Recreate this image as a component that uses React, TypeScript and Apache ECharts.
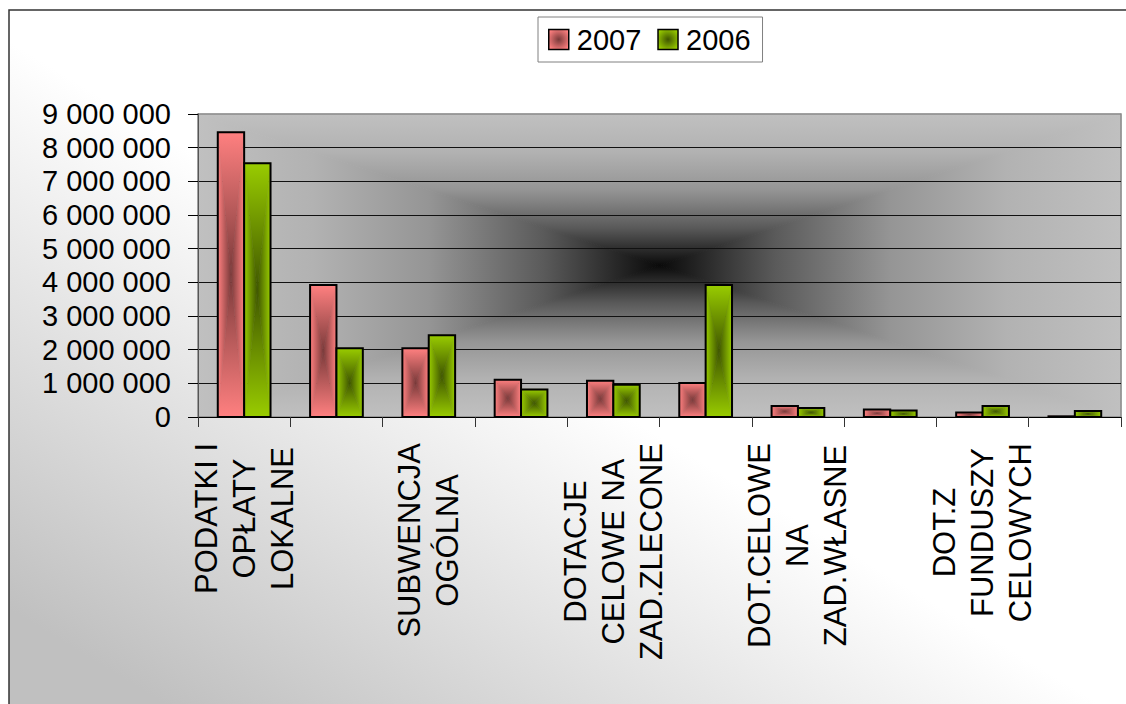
import React, { useEffect, useRef } from 'react';
import * as echarts from 'echarts';

// ---------- data ----------
const categories: string[] = [
  'PODATKI I\nOPŁATY\nLOKALNE',
  '',
  'SUBWENCJA\nOGÓLNA',
  '',
  'DOTACJE\nCELOWE NA\nZAD.ZLECONE',
  '',
  'DOT.CELOWE\nNA\nZAD.WŁASNE',
  '',
  'DOT.Z\nFUNDUSZY\nCELOWYCH',
  '',
];
const values2007: number[] = [8460000, 3920000, 2040000, 1110000, 1080000, 1010000, 330000, 220000, 130000, 20000];
const values2006: number[] = [7540000, 2040000, 2430000, 820000, 960000, 3920000, 270000, 190000, 330000, 180000];
const seriesNames: string[] = ['2007', '2006'];
const yMin = 0;
const yMax = 9000000;
const yStep = 1000000;

// ---------- style ----------
const FONT = "'Liberation Sans', Arial, Helvetica, sans-serif";
const GL = 198, GT = 114, GR = 1121, GB = 417;
const edgeColors = ['#ff8080', '#99cc00'];
const centerColors = ['#7a3a3a', '#3f5600'];

const fmt = (v: number) => String(v).replace(/\B(?=(\d{3})+(?!\d))/g, ' ');

const plotStops = [
  { offset: 0, color: '#c0c0c0' },
  { offset: 0.25, color: '#b2b2b2' },
  { offset: 0.5, color: '#959595' },
  { offset: 0.75, color: '#5a5a5a' },
  { offset: 0.9, color: '#2a2a2a' },
  { offset: 1, color: '#0a0a0a' },
];

function makeRender(si: number) {
  return (params: any, api: any) => {
    const idx = api.value(0);
    const val = api.value(1);
    const band = api.size([1, 0])[0];
    const barW = band / 3.5;
    const base = api.coord([idx, 0]);
    const top = api.coord([idx, val]);
    const x0 = base[0] - barW + si * barW;
    const x1 = x0 + barW;
    const y0 = top[1];
    const y1 = base[1];
    const cx = (x0 + x1) / 2;
    const cy = (y0 + y1) / 2;
    const stops = [
      { offset: 0, color: edgeColors[si] },
      { offset: 1, color: centerColors[si] },
    ];
    const lg = (a: number, b: number, c: number, d: number) =>
      new echarts.graphic.LinearGradient(a, b, c, d, stops);
    const tri = (pts: number[][], g: any) => ({
      type: 'polygon',
      shape: { points: pts },
      style: { fill: g, stroke: g, lineWidth: 0.6 },
    });
    return {
      type: 'group',
      children: [
        tri([[x0, y0], [x1, y0], [cx, cy]], lg(0, 0, 0, 1)),
        tri([[x0, y1], [x1, y1], [cx, cy]], lg(0, 1, 0, 0)),
        tri([[x0, y0], [x0, y1], [cx, cy]], lg(0, 0, 1, 0)),
        tri([[x1, y0], [x1, y1], [cx, cy]], lg(1, 0, 0, 0)),
        {
          type: 'rect',
          shape: { x: x0, y: y0, width: x1 - x0, height: y1 - y0 },
          style: { fill: 'none', stroke: '#000', lineWidth: 2 },
        },
      ],
    };
  };
}

export default function App() {
  const ref = useRef<HTMLDivElement>(null);
  useEffect(() => {
    if (!ref.current) return;
    const chart = echarts.init(ref.current, undefined, { renderer: 'svg' });
    const cx = (GL + GR) / 2;
    const cy = (GT + GB) / 2;
    const plg = (a: number, b: number, c: number, d: number) =>
      new echarts.graphic.LinearGradient(a, b, c, d, plotStops);
    const ptri = (pts: number[][], g: any) => ({
      type: 'polygon',
      z: -5,
      silent: true,
      shape: { points: pts },
      style: { fill: g, stroke: g, lineWidth: 1 },
    });
    const bgGrad = new echarts.graphic.LinearGradient(
      -268, 441, -16, 26,
      [
        { offset: 0, color: '#c0c0c0' },
        { offset: 1, color: '#ffffff' },
      ],
      true
    );
    chart.setOption({
      animation: false,
      backgroundColor: '#ffffff',
      graphic: [
        {
          type: 'rect', z: -10, silent: true,
          shape: { x: 9, y: 10, width: 1400, height: 1000 },
          style: { fill: bgGrad, stroke: '#333', lineWidth: 1.5 },
        },
        ptri([[GL, GT], [GR, GT], [cx, cy]], plg(0, 0, 0, 1)),
        ptri([[GL, GB], [GR, GB], [cx, cy]], plg(0, 1, 0, 0)),
        ptri([[GL, GT], [GL, GB], [cx, cy]], plg(0, 0, 1, 0)),
        ptri([[GR, GT], [GR, GB], [cx, cy]], plg(1, 0, 0, 0)),
      ],
      legend: {
        left: 538,
        top: 17,
        padding: [6, 12, 6, 10],
        itemWidth: 20,
        itemHeight: 20,
        itemGap: 16,
        icon: 'rect',
        backgroundColor: '#ffffff',
        borderColor: '#808080',
        borderWidth: 1,
        textStyle: { fontSize: 29, fontFamily: FONT, color: '#000', lineHeight: 33, padding: [0, 0, 0, 3] },
        data: seriesNames.map((n, i) => ({
          name: n,
          itemStyle: {
            color: new echarts.graphic.RadialGradient(0.5, 0.5, 0.6, [
              { offset: 0, color: centerColors[i] },
              { offset: 1, color: edgeColors[i] },
            ]),
            borderColor: '#000',
            borderWidth: 1.5,
          },
        })),
      },
      grid: {
        left: GL,
        top: GT,
        width: GR - GL,
        height: GB - GT,
        show: true,
        backgroundColor: 'transparent',
        borderColor: '#8a8a8a',
        borderWidth: 1.5,
      },
      xAxis: {
        type: 'category',
        data: categories,
        boundaryGap: true,
        axisLine: { show: true, lineStyle: { color: '#000', width: 1 } },
        axisTick: { show: true, interval: 0, alignWithLabel: false, length: 10, lineStyle: { color: '#333' } },
        axisLabel: {
          interval: 1,
          rotate: 90,
          margin: 26,
          fontSize: 31,
          fontFamily: FONT,
          color: '#000',
          formatter: (v: string) =>
            v ? v.split('\n').map((l) => `{c|${l}}`).join('\n') : '',
          rich: {
            c: { fontSize: 31, lineHeight: 38, fontFamily: FONT, color: '#000', align: 'center' },
          },
        },
        splitLine: { show: false },
      },
      yAxis: {
        type: 'value',
        min: yMin,
        max: yMax,
        interval: yStep,
        axisLine: { show: true, lineStyle: { color: '#555', width: 1 } },
        axisTick: { show: true, length: 10, lineStyle: { color: '#000' } },
        axisLabel: {
          margin: 27,
          fontSize: 29,
          fontFamily: FONT,
          color: '#000',
          formatter: (v: number) => fmt(v),
        },
        splitLine: { show: true, showMinLine: false, showMaxLine: false, lineStyle: { color: '#111', width: 1 } },
      },
      series: seriesNames.map((name, si) => ({
        type: 'custom',
        name,
        z: 3,
        encode: { x: 0, y: 1 },
        itemStyle: { color: edgeColors[si] },
        data: (si === 0 ? values2007 : values2006).map((v, i) => [i, v]),
        renderItem: makeRender(si),
      })),
    });
    return () => chart.dispose();
  }, []);
  return (
    <div
      ref={ref}
      style={{ position: 'fixed', left: 0, top: 0, width: 1126, height: 704 }}
    />
  );
}
